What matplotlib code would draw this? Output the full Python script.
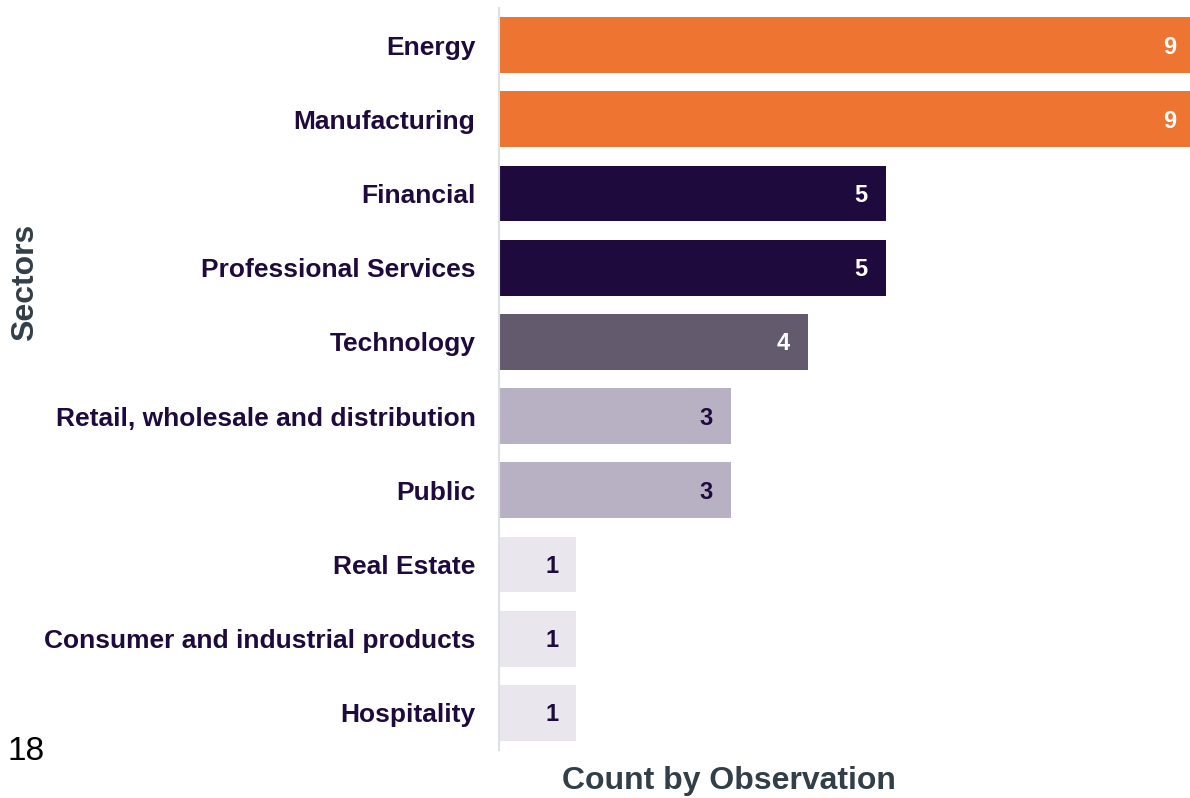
import matplotlib
matplotlib.use("Agg")
import matplotlib.pyplot as plt

plt.rcParams['font.family'] = ['Liberation Sans', 'DejaVu Sans']

# Sector counts, top to bottom
sectors = [
    "Energy",
    "Manufacturing",
    "Financial",
    "Professional Services",
    "Technology",
    "Retail, wholesale and distribution",
    "Public",
    "Real Estate",
    "Consumer and industrial products",
    "Hospitality",
]
counts = [9, 9, 5, 5, 4, 3, 3, 1, 1, 1]

# Colour bands by count
ORANGE = "#ED7431"
DARK = "#1E0A3C"
MID = "#635A6E"
LIGHT = "#B8B1C4"
PALE = "#E9E6EE"
band_colors = {9: ORANGE, 5: DARK, 4: MID, 3: LIGHT, 1: PALE}
label_colors = {9: "white", 5: "white", 4: "white", 3: DARK, 1: DARK}

W, H = 1190, 798
fig = plt.figure(figsize=(W / 100, H / 100), dpi=100)
ax = fig.add_axes([499 / W, 48 / H, 691 / W, 742 / H])

y = list(range(len(sectors)))
bars = ax.barh(y, counts, height=0.75,
               color=[band_colors[c] for c in counts], zorder=2)

ax.set_ylim(len(sectors) - 0.5, -0.5)
ax.set_xlim(0, 691 / 77.3)

ax.set_yticks(y)
ax.set_yticklabels(sectors, fontsize=19, fontweight='bold', color=DARK)
ax.tick_params(axis='y', length=0, pad=17)
ax.set_xticks([])

for side in ('top', 'right', 'bottom'):
    ax.spines[side].set_visible(False)
ax.spines['left'].set_color('#DDE1E6')
ax.spines['left'].set_linewidth(1.5)

# count labels just inside the bar ends
for yi, c in zip(y, counts):
    ax.annotate(str(c), xy=(c, yi), xytext=(-18, -2), textcoords='offset pixels',
                ha='right', va='center', fontsize=17, fontweight='bold',
                color=label_colors[c], annotation_clip=False, zorder=3)

fig.text(729 / W, 1 - 781 / H, "Count by Observation", ha='center', va='center',
         fontsize=23, fontweight='bold', color='#333F48')
fig.text(25 / W, 1 - 282 / H, "Sectors", ha='center', va='center', rotation=90,
         fontsize=23, fontweight='bold', color='#333F48')
fig.text(7 / W, 1 - 752 / H, "18", ha='left', va='center', fontsize=24,
         color='black')

fig.savefig("out.png", dpi=100)
